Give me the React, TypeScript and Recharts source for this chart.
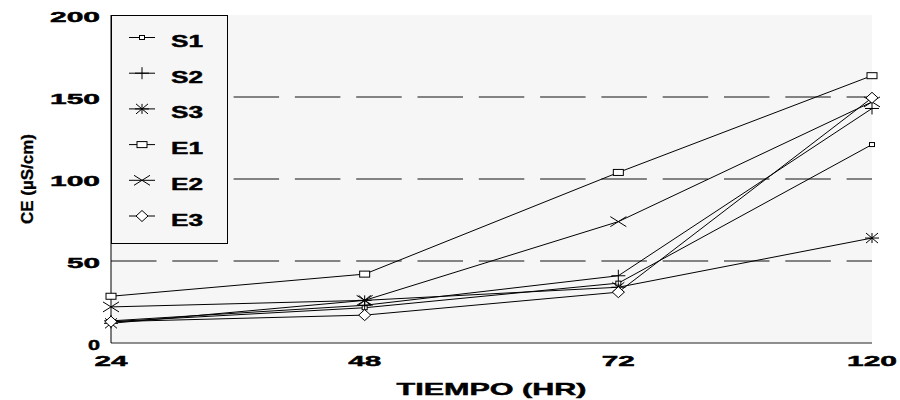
import React from 'react';
import { LineChart, Line, XAxis, YAxis, CartesianGrid, ReferenceLine, Legend } from 'recharts';

const hours = ['24', '48', '72', '120'];
const s1 = [13, 21.5, 36.5, 121];
const s2 = [13.5, 23, 41, 143];
const s3 = [12, 26, 34, 64];
const e1 = [28.5, 42, 104, 163];
const e2 = [22, 26, 74, 147];
const e3 = [13, 17, 31, 149.5];
const seriesNames = ['S1', 'S2', 'S3', 'E1', 'E2', 'E3'];
const seriesValues = [s1, s2, s3, e1, e2, e3];
const yTicks = [0, 50, 100, 150, 200];
const gridLevels = [50, 100, 150];
const xTitle = 'TIEMPO (HR)';
const yTitle = 'CE (µS/cm)';

const data = hours.map((h, i) => {
  const row: any = { t: h };
  seriesNames.forEach((n, k) => { row[n] = seriesValues[k][i]; });
  return row;
});

const FONT = '"Liberation Sans", Arial, sans-serif';
const BG = '#f6f6f6';
const heavy = { stroke: '#000', strokeWidth: 0.45 };

function Marker({ kind, cx, cy }: { kind: string; cx: number; cy: number }) {
  const st = { stroke: '#000', strokeWidth: 1 };
  switch (kind) {
    case 'S1':
      return <rect x={cx - 2.5} y={cy - 2} width={5} height={4} fill="#fff" {...st} />;
    case 'S2':
      return (
        <g>
          <line x1={cx - 7} x2={cx + 7} y1={cy} y2={cy} {...st} />
          <line x1={cx} x2={cx} y1={cy - 6} y2={cy + 6} {...st} />
        </g>
      );
    case 'S3':
      return (
        <g>
          <line x1={cx - 7} x2={cx + 7} y1={cy} y2={cy} {...st} />
          <line x1={cx} x2={cx} y1={cy - 5} y2={cy + 5} {...st} />
          <line x1={cx - 6} x2={cx + 6} y1={cy - 5} y2={cy + 5} {...st} />
          <line x1={cx - 6} x2={cx + 6} y1={cy + 5} y2={cy - 5} {...st} />
        </g>
      );
    case 'E1':
      return <rect x={cx - 5} y={cy - 3} width={10} height={6} fill="#fff" {...st} />;
    case 'E2':
      return (
        <g>
          <line x1={cx - 8} x2={cx + 8} y1={cy - 5} y2={cy + 5} {...st} />
          <line x1={cx - 8} x2={cx + 8} y1={cy + 5} y2={cy - 5} {...st} />
        </g>
      );
    case 'E3':
    default:
      return (
        <polygon
          points={`${cx - 6},${cy} ${cx},${cy - 5.5} ${cx + 6},${cy} ${cx},${cy + 5.5}`}
          fill="#fff"
          {...st}
        />
      );
  }
}

const tickLen = (s: string) => (s.length === 1 ? 12 : 17 * s.length - 1);

const YTick = (props: any) => {
  const { x, y, payload } = props;
  const s = String(payload.value);
  return (
    <text x={x - 11} y={y + 7} textAnchor="end" fontFamily={FONT} fontWeight="bold" fontSize={15}
      textLength={tickLen(s)} lengthAdjust="spacingAndGlyphs" fill="#000" {...heavy}>{s}</text>
  );
};

const XTick = (props: any) => {
  const { x, y, payload } = props;
  const s = String(payload.value);
  return (
    <text x={x} y={y + 23} textAnchor="middle" fontFamily={FONT} fontWeight="bold" fontSize={15}
      textLength={tickLen(s)} lengthAdjust="spacingAndGlyphs" fill="#000" {...heavy}>{s}</text>
  );
};

const XTitle = (props: any) => {
  const vb = props.viewBox || { x: 111, y: 343, width: 761, height: 57 };
  const cx = vb.x + vb.width / 2;
  return (
    <text x={cx} y={vb.y + 52} textAnchor="middle" fontFamily={FONT} fontWeight="bold" fontSize={17}
      textLength={190} lengthAdjust="spacingAndGlyphs" fill="#000" {...heavy}>{xTitle}</text>
  );
};

const YTitle = (props: any) => {
  const vb = props.viewBox || { x: 0, y: 15, width: 111, height: 328 };
  const cy = vb.y + vb.height / 2;
  const x = 33;
  return (
    <text x={x} y={cy} transform={`rotate(-90 ${x} ${cy})`} textAnchor="middle" fontFamily={FONT}
      fontWeight="bold" fontSize={16} textLength={90} lengthAdjust="spacingAndGlyphs" fill="#000"
      stroke="#000" strokeWidth={0.3}>{yTitle}</text>
  );
};

const renderLegend = (props: any) => {
  const payload = [...(props.payload || [])].sort(
    (a: any, b: any) => seriesNames.indexOf(String(a.dataKey)) - seriesNames.indexOf(String(b.dataKey)),
  );
  return (
    <svg width={117} height={229} style={{ display: 'block' }}>
      <rect x={0.5} y={0.5} width={116} height={228} fill={BG} stroke="#000" />
      {payload.map((e: any, i: number) => {
        const y = 22.5 + i * 35.7;
        const key = String(e.dataKey ?? e.value);
        return (
          <g key={key}>
            <line x1={18} x2={44} y1={y} y2={y} stroke="#000" />
            <Marker kind={key} cx={31} cy={y} />
            <text x={60} y={y + 9.5} fontFamily={FONT} fontWeight="bold" fontSize={16}
              textLength={32} lengthAdjust="spacingAndGlyphs" fill="#000" {...heavy}>{e.value}</text>
          </g>
        );
      })}
    </svg>
  );
};

export default function App() {
  return (
    <div style={{ position: 'absolute', left: 0, top: 0, background: '#fff' }}>
      <LineChart width={900} height={400} data={data} margin={{ top: 15, right: 28, bottom: 0, left: 0 }}>
        <CartesianGrid fill={BG} horizontal={false} vertical={false} />
        <XAxis dataKey="t" type="category" height={57} tickSize={0} tickMargin={0} tickLine={false}
          axisLine={{ stroke: '#222' }} tick={<XTick />} interval={0} label={{ content: XTitle }} />
        <XAxis xAxisId="top" dataKey="t" orientation="top" height={0} tick={false} tickLine={false}
          axisLine={{ stroke: '#000' }} />
        <YAxis domain={[0, 200]} ticks={yTicks} width={111} tickSize={0} tickMargin={0} tickLine={false}
          axisLine={{ stroke: '#000' }} tick={<YTick />} interval={0} label={{ content: YTitle }} />
        <YAxis yAxisId="right" orientation="right" domain={[0, 200]} width={0} tick={false} tickLine={false}
          axisLine={{ stroke: '#000' }} />
        {gridLevels.map((v) => (
          <ReferenceLine key={v} y={v} stroke="#111" strokeWidth={1} strokeDasharray="45.5 15.8" />
        ))}
        {seriesNames.map((n) => (
          <Line key={n} dataKey={n} name={n} stroke="#000" strokeWidth={1} isAnimationActive={false}
            dot={(p: any) => <Marker key={`${n}-${p.index}`} kind={n} cx={p.cx} cy={p.cy} />}
            activeDot={false} />
        ))}
        <Legend layout="vertical" align="center" verticalAlign="middle" content={renderLegend}
          wrapperStyle={{ position: 'absolute', left: 111, top: 15, width: 117, height: 229, right: 'auto', bottom: 'auto' }} />
      </LineChart>
    </div>
  );
}
